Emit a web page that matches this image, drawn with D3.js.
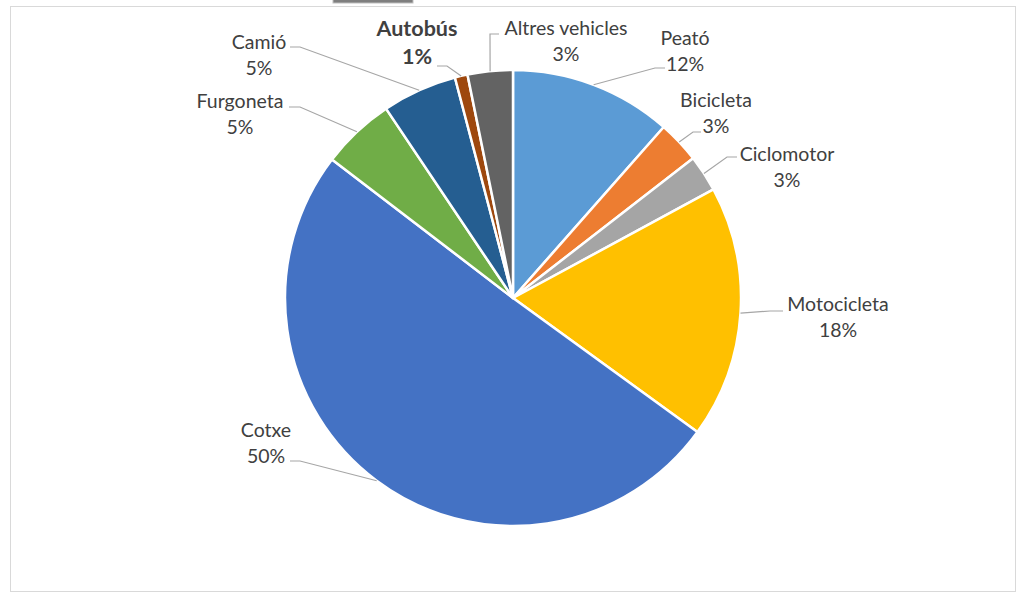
<!DOCTYPE html>
<html>
<head>
<meta charset="utf-8">
<script src="https://cdn.jsdelivr.net/npm/d3@7"></script>
<style>
  body { margin: 0; background: #fff; }
  text { font-family: Lato, "Noto Sans", sans-serif; }
</style>
</head>
<body>
<div id="chart"></div>
<script>
// Categories and shares (%), clockwise from 12 o'clock
const categories = ['Peató', 'Bicicleta', 'Ciclomotor', 'Motocicleta', 'Cotxe', 'Furgoneta', 'Camió', 'Autobús', 'Altres vehicles'];
const values = [11.5, 3.0, 2.6, 17.9, 50.4, 5.2, 5.3, 0.9, 3.2];
const colors = ['#5B9BD5', '#ED7D31', '#A5A5A5', '#FFC000', '#4472C4', '#70AD47', '#255E91', '#9E480E', '#636363'];
const boldLabels = ['Autobús'];

// label layout: text centre x, first baseline y, leader end x, elbow x, leader y
const labelLayout = {
    'Peató':           {x: 685, y: 45,  end: 665, elbow: 655, ly: 68},
    'Bicicleta':       {x: 716, y: 107, end: 701, elbow: 693, ly: 132},
    'Ciclomotor':      {x: 787, y: 161, end: 737, elbow: 727, ly: 157},
    'Motocicleta':     {x: 838, y: 311, end: 783, elbow: 770, ly: 311},
    'Cotxe':           {x: 266, y: 437, end: 290, elbow: 300, ly: 461},
    'Furgoneta':       {x: 240, y: 108, end: 289, elbow: 300, ly: 107},
    'Camió':           {x: 259, y: 49,  end: 290, elbow: 300, ly: 47},
    'Autobús':         {x: 417, y: 36,  end: 437, elbow: 447, ly: 66},
    'Altres vehicles': {x: 566, y: 35,  end: 499, elbow: 490, ly: 34}
};

const width = 1024, height = 601;
const cx = 513, cy = 298, radius = 228;

const svg = d3.select('#chart').append('svg')
    .attr('width', width)
    .attr('height', height);

// chart frame
svg.append('rect')
    .attr('x', 10.5).attr('y', 6.5)
    .attr('width', 1005).attr('height', 585)
    .attr('fill', '#fff')
    .attr('stroke', '#d9d9d9');

// cropped tab at the top edge
svg.append('rect')
    .attr('x', 333).attr('y', -2)
    .attr('width', 80).attr('height', 5)
    .attr('fill', '#7f7f7f')
    .attr('stroke', '#bfbfbf');

const data = categories.map((c, i) => ({name: c, value: values[i], color: colors[i]}));

const pie = d3.pie()
    .value(d => d.value)
    .sort(null);

const arcs = pie(data);

const arc = d3.arc()
    .innerRadius(0)
    .outerRadius(radius);

const edgeArc = d3.arc()
    .innerRadius(radius)
    .outerRadius(radius);

const g = svg.append('g')
    .attr('transform', `translate(${cx}, ${cy})`);

// slices
g.selectAll('.slice')
    .data(arcs)
    .enter().append('path')
    .attr('class', 'slice')
    .attr('d', arc)
    .attr('fill', d => d.data.color)
    .attr('stroke', '#fff')
    .attr('stroke-width', 2.5)
    .attr('stroke-linejoin', 'round');

// leader lines
svg.selectAll('.leader')
    .data(arcs)
    .enter().append('polyline')
    .attr('class', 'leader')
    .attr('points', d => {
        const p = edgeArc.centroid(d);
        const l = labelLayout[d.data.name];
        return [[cx + p[0], cy + p[1]], [l.elbow, l.ly], [l.end, l.ly]].map(q => q.join(',')).join(' ');
    })
    .attr('fill', 'none')
    .attr('stroke', '#a6a6a6')
    .attr('stroke-width', 1.2);

// labels
const isBold = d => boldLabels.includes(d.data.name);

const labels = svg.selectAll('.label')
    .data(arcs)
    .enter().append('text')
    .attr('class', 'label')
    .attr('text-anchor', 'middle')
    .attr('fill', '#404040')
    .style('font-size', d => isBold(d) ? '21.5px' : '19.5px')
    .style('font-weight', d => isBold(d) ? 'bold' : 'normal');

labels.append('tspan')
    .attr('x', d => labelLayout[d.data.name].x)
    .attr('y', d => labelLayout[d.data.name].y)
    .text(d => d.data.name);

labels.append('tspan')
    .attr('x', d => labelLayout[d.data.name].x)
    .attr('y', d => labelLayout[d.data.name].y + (isBold(d) ? 28 : 25.5))
    .text(d => Math.round(d.data.value) + '%');
</script>
</body>
</html>
